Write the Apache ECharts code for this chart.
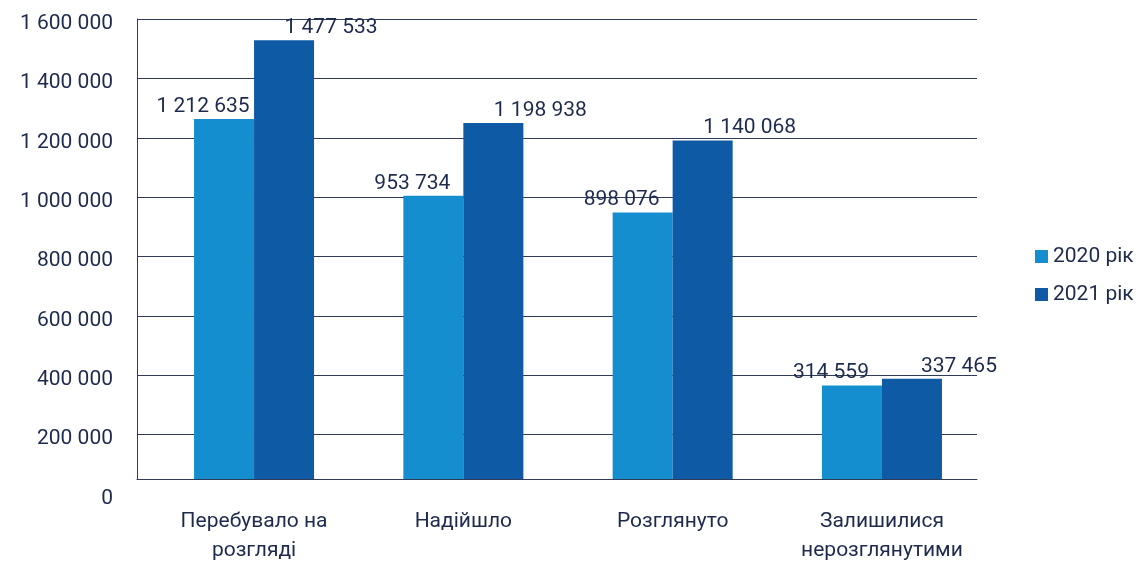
<!DOCTYPE html>
<html>
<head>
<meta charset="utf-8">
<script src="https://cdn.jsdelivr.net/npm/echarts@6/dist/echarts.min.js"></script>
<style>
  html, body { margin: 0; padding: 0; background: #fff; }
  #chart { width: 1143px; height: 565px; }
</style>
</head>
<body>
<div id="chart"></div>
<script>
// Дані
var categories = ['Перебувало на розгляді', 'Надійшло', 'Розглянуто', 'Залишилися нерозглянутими']
var years = ['2020 рік', '2021 рік']
var values2020 = [1212635, 953734, 898076, 314559]
var values2021 = [1477533, 1198938, 1140068, 337465]
var axisMax = 1600000
var axisStep = 200000

var textColor = '#1d2a4d'
var lineColor = '#2f3b57'
var font = 'Roboto, "Noto Sans", sans-serif'

// сітка зі стовпчиками зміщена відносно ліній шкали, як в оригіналі
var plotTop = 19
var scaleBottom = 494  // де стоїть "0" шкали
var barBottom = 479    // де починаються стовпчики
var pxPerUnit = (scaleBottom - plotTop) / axisMax

function fmt(v) {
  return String(v).replace(/\B(?=(\d{3})+(?!\d))/g, ' ')
}

var myChart = echarts.init(document.getElementById('chart'))

var option = {
  animation: false,
  textStyle: { fontFamily: font },
  legend: {
    data: years,
    orient: 'vertical',
    left: 1030,
    top: 241,
    icon: 'rect',
    itemWidth: 13,
    itemHeight: 13,
    itemGap: 17,
    textStyle: { fontSize: 21, color: textColor, fontFamily: font }
  },
  grid: [
    // рамка: ліва вісь і нижня лінія
    { left: 137, width: 840, top: plotTop, height: barBottom - plotTop, outerBoundsMode: 'none' },
    // лінії шкали та підписи
    { left: 137, width: 840, top: plotTop, height: scaleBottom - plotTop, outerBoundsMode: 'none' },
    // стовпчики
    { left: 149.4, width: 837.2, top: plotTop, height: barBottom - plotTop, outerBoundsMode: 'none' }
  ],
  xAxis: [
    {
      gridIndex: 0,
      type: 'category',
      data: [''],
      axisLine: { show: true, lineStyle: { color: lineColor, width: 1 } },
      axisTick: { show: false },
      axisLabel: { show: false }
    },
    {
      gridIndex: 1,
      type: 'category',
      data: [''],
      show: false
    },
    {
      gridIndex: 2,
      type: 'category',
      data: categories,
      axisLine: { show: false },
      axisTick: { show: false },
      axisLabel: {
        margin: 28,
        fontSize: 21,
        lineHeight: 29,
        color: textColor,
        fontFamily: font,
        interval: 0,
        // перенос на останньому пробілі
        formatter: function (v) { return v.replace(/ (?=[^ ]*$)/, '\n') }
      }
    }
  ],
  yAxis: [
    {
      gridIndex: 0,
      type: 'value',
      min: 0,
      max: 1,
      axisLine: { show: true, lineStyle: { color: lineColor, width: 1 } },
      axisTick: { show: false },
      axisLabel: { show: false },
      splitLine: { show: false }
    },
    {
      gridIndex: 1,
      type: 'value',
      min: 0,
      max: axisMax,
      interval: axisStep,
      axisLine: { show: false },
      axisTick: { show: false },
      axisLabel: {
        margin: 24,
        color: textColor,
        formatter: function (v) { return '{t|' + fmt(v) + '}' },
        rich: {
          t: {
            fontSize: 21,
            color: textColor,
            fontFamily: font,
            padding: [9, 0, 0, 0]
          }
        }
      },
      splitLine: {
        show: true,
        showMinLine: false,
        lineStyle: { color: lineColor, width: 1 }
      }
    },
    {
      gridIndex: 2,
      type: 'value',
      min: 0,
      max: (barBottom - plotTop) / pxPerUnit,
      show: false
    }
  ],
  series: [
    {
      name: years[0],
      type: 'bar',
      xAxisIndex: 2,
      yAxisIndex: 2,
      data: values2020,
      barWidth: 60,
      barGap: '0%',
      itemStyle: { color: '#148ece' },
      label: {
        show: true,
        position: 'top',
        distance: 2,
        offset: [-21, 0],
        fontSize: 21,
        color: textColor,
        fontFamily: font,
        formatter: function (p) { return fmt(p.value) }
      }
    },
    {
      name: years[1],
      type: 'bar',
      xAxisIndex: 2,
      yAxisIndex: 2,
      data: values2021,
      barWidth: 60,
      barGap: '0%',
      itemStyle: { color: '#0f5aa5' },
      label: {
        show: true,
        position: 'top',
        distance: 2,
        offset: [47, 0],
        fontSize: 21,
        color: textColor,
        fontFamily: font,
        formatter: function (p) { return fmt(p.value) }
      }
    }
  ]
}

option && myChart.setOption(option)
</script>
</body>
</html>
